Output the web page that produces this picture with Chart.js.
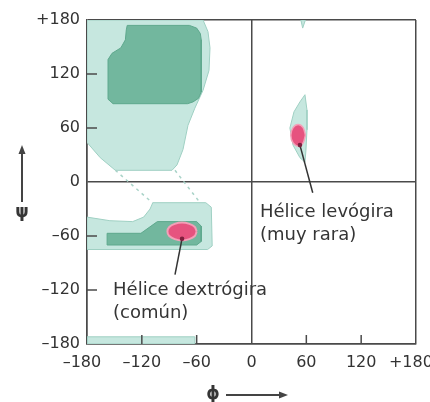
<!DOCTYPE html>
<html>
<head>
<meta charset="utf-8">
<script src="https://cdn.jsdelivr.net/npm/chart.js@4.4.1/dist/chart.umd.min.js"></script>
<style>
  html, body { margin: 0; padding: 0; background: #fff; }
</style>
</head>
<body>
<canvas id="rama" width="430" height="402"></canvas>
<script>
// tick values and their printed labels
const phiTicks = [-180, -120, -60, 0, 60, 120, 180];
const phiLabels = ['–180  ', '–120', '–60', '0', '60', '120', '+180  '];
const psiTicks = [-180, -120, -60, 0, 60, 120, 180];
const psiLabels = ['–180', '–120', '–60', '0', '60', '120', '+180'];

// allowed regions, [phi, psi] outlines
const betaLight = [[-180, 180], [-53, 180], [-47.6, 167], [-45.4, 149], [-46.5, 124], [-53, 102], [-62, 82],
  [-69.5, 63], [-75, 36], [-81.5, 19], [-87, 13], [-149, 13], [-165.5, 27], [-180, 44]];
const betaDark = [[-136, 174], [-68, 174], [-60, 171], [-56, 165], [-55, 158], [-55, 100], [-58, 93], [-64, 89],
  [-70, 87], [-151.5, 87], [-157, 92], [-157, 136], [-152.6, 143], [-143, 149], [-138, 158], [-137, 169]];
const alphaLight = [[-180, -39], [-155, -43], [-130, -44], [-118, -39], [-111, -30], [-108, -23],
  [-50, -23], [-44, -28], [-43, -71], [-48, -75], [-180, -75]];
const alphaDark = [[-158, -57], [-121, -57], [-103, -44], [-60, -44], [-55, -49], [-55, -66],
  [-60, -70], [-158, -70]];
const alphaCore = [[-60, -55], [-62, -50], [-68, -46.5], [-76, -45], [-84, -46.5], [-90, -50], [-92, -55],
  [-90, -60], [-84, -63.5], [-76, -65], [-68, -63.5], [-62, -60]];
const leftLight = [[58.5, 97], [60.7, 80], [60.7, 58], [59.6, 35.5], [58.5, 22], [53, 27], [45.4, 41],
  [42, 60], [46.5, 78], [53, 89]];
const leftCore = [[59, 52], [56.5, 60.5], [51, 64], [45.5, 60.5], [43, 52], [45.5, 43.5], [51, 40], [56.5, 43.5]];
const bottomStrip = [[-180, -180], [-62, -180], [-62, -172], [-180, -172]];
const topNotch = [[54, 180], [59, 180], [56, 171]];

// dashed links between the two left regions
const linkA = [[-149, 13], [-108.5, -23]];
const linkB = [[-83.7, 13], [-56.3, -23]];

// callouts: leader line and text
const leaderLeft = [[-76, -63], [-83.7, -103]];
const leaderRight = [[53, 41], [67, -12]];
const calloutText = [['Hélice dextrógira', '(común)'], ['Hélice levógira', '(muy rara)']];
const calloutAt = [[-151.5, -120], [9.3, -34]];

const LIGHT = '#c6e7df', LIGHT_EDGE = '#9fd0c3';
const DARK = '#72b79e', DARK_EDGE = '#5ea88d';
const PINK = '#e6537f', PINK_EDGE = '#f3a0b8';
const AXIS = '#4a4a4a';

function xy(pts) { return pts.map(p => ({ x: p[0], y: p[1] })); }

function region(pts, fillColor, edge, width) {
  const closed = pts.concat([pts[0]]);
  return {
    data: xy(closed),
    backgroundColor: fillColor,
    borderColor: edge,
    borderWidth: width,
    fill: 'shape',
    pointRadius: 0,
    tension: 0
  };
}

function segment(pts, color, width, dash) {
  return {
    data: xy(pts),
    borderColor: color,
    borderWidth: width,
    borderDash: dash || [],
    fill: false,
    pointRadius: 0
  };
}

const extras = {
  id: 'extras',
  afterDraw(chart) {
    const { ctx, chartArea: a, scales: { x, y } } = chart;
    ctx.save();

    // short inward ticks
    ctx.strokeStyle = AXIS;
    ctx.lineWidth = 1.5;
    [120, 60, -60, -120].forEach(v => {
      const py = y.getPixelForValue(v);
      ctx.beginPath(); ctx.moveTo(a.left, py); ctx.lineTo(a.left + 10, py); ctx.stroke();
    });
    [-120, -60, 60, 120].forEach(v => {
      const px = x.getPixelForValue(v);
      ctx.beginPath(); ctx.moveTo(px, a.bottom); ctx.lineTo(px, a.bottom - 9); ctx.stroke();
    });

    // markers at the start of the leader lines
    ctx.fillStyle = '#7d1f3d';
    [leaderLeft[0], leaderRight[0]].forEach(p => {
      ctx.beginPath();
      ctx.arc(x.getPixelForValue(p[0]), y.getPixelForValue(p[1]), 2.3, 0, Math.PI * 2);
      ctx.fill();
    });

    // callout texts
    ctx.fillStyle = '#353535';
    ctx.font = '18px "DejaVu Sans"';
    ctx.textAlign = 'left';
    ctx.textBaseline = 'middle';
    calloutText.forEach((lines, i) => {
      const px = x.getPixelForValue(calloutAt[i][0]);
      const py = y.getPixelForValue(calloutAt[i][1]);
      lines.forEach((t, k) => ctx.fillText(t, px, py + k * 23));
    });

    // axis symbols with arrows
    ctx.font = 'bold 17px "DejaVu Sans"';
    ctx.textAlign = 'center';
    ctx.fillText('ψ', 22, 213);
    ctx.fillText('ϕ', 213, 395);
    ctx.strokeStyle = '#444';
    ctx.fillStyle = '#444';
    ctx.lineWidth = 2;
    ctx.beginPath(); ctx.moveTo(22, 202); ctx.lineTo(22, 152); ctx.stroke();
    ctx.beginPath(); ctx.moveTo(22, 145); ctx.lineTo(18.5, 154); ctx.lineTo(25.5, 154); ctx.closePath(); ctx.fill();
    ctx.beginPath(); ctx.moveTo(226, 395); ctx.lineTo(281, 395); ctx.stroke();
    ctx.beginPath(); ctx.moveTo(288, 395); ctx.lineTo(279, 391.5); ctx.lineTo(279, 398.5); ctx.closePath(); ctx.fill();

    ctx.restore();
  }
};

function gridColor(c) {
  return (c.tick && [-180, 0, 180].includes(c.tick.value)) ? AXIS : 'rgba(0,0,0,0)';
}

// listed bottom layer first
const datasets = [
  region(betaLight, LIGHT, LIGHT_EDGE, 1),
  region(alphaLight, LIGHT, LIGHT_EDGE, 1),
  region(leftLight, LIGHT, LIGHT_EDGE, 1),
  region(bottomStrip, LIGHT, LIGHT_EDGE, 1),
  region(topNotch, LIGHT, LIGHT_EDGE, 1),
  region(betaDark, DARK, DARK_EDGE, 1),
  region(alphaDark, DARK, DARK_EDGE, 1),
  Object.assign(region(alphaCore, PINK, PINK_EDGE, 2), { tension: 0.3 }),
  Object.assign(region(leftCore, PINK, PINK_EDGE, 1.5), { tension: 0.3 }),
  segment(linkA, '#a9d3c8', 1.5, [3, 4]),
  segment(linkB, '#a9d3c8', 1.5, [3, 4]),
  segment(leaderLeft, '#333', 1.5),
  segment(leaderRight, '#333', 1.5)
];
// chart.js paints higher order first
datasets.forEach((d, i) => { d.order = datasets.length - i; });

new Chart(document.getElementById('rama'), {
  type: 'line',
  data: { datasets },
  options: {
    responsive: false,
    animation: false,
    events: [],
    layout: { padding: { top: 20, right: 14, left: 0, bottom: 0 } },
    plugins: { legend: { display: false }, tooltip: { enabled: false } },
    scales: {
      x: {
        type: 'linear',
        min: -180, max: 180,
        z: 1,
        afterBuildTicks: s => { s.ticks = phiTicks.map(v => ({ value: v })); },
        afterFit: s => { s.height = 58; s.paddingLeft = 0; s.paddingRight = 0; },
        grid: { color: gridColor, lineWidth: 1.5, drawTicks: false },
        border: { display: true, color: AXIS, width: 1.5 },
        ticks: {
          autoSkip: false, maxRotation: 0, padding: 9,
          color: '#333', font: { family: 'DejaVu Sans', size: 16 },
          callback: v => phiLabels[phiTicks.indexOf(v)]
        }
      },
      y: {
        type: 'linear',
        min: -180, max: 180,
        z: 1,
        afterBuildTicks: s => { s.ticks = psiTicks.map(v => ({ value: v })); },
        afterFit: s => { s.width = 87; s.paddingTop = 0; s.paddingBottom = 0; },
        grid: { color: gridColor, lineWidth: 1.5, drawTicks: false },
        border: { display: true, color: AXIS, width: 1.5 },
        ticks: {
          autoSkip: false, padding: 7,
          color: '#333', font: { family: 'DejaVu Sans', size: 16 },
          callback: v => psiLabels[psiTicks.indexOf(v)]
        }
      }
    }
  },
  plugins: [extras]
});
</script>
</body>
</html>
